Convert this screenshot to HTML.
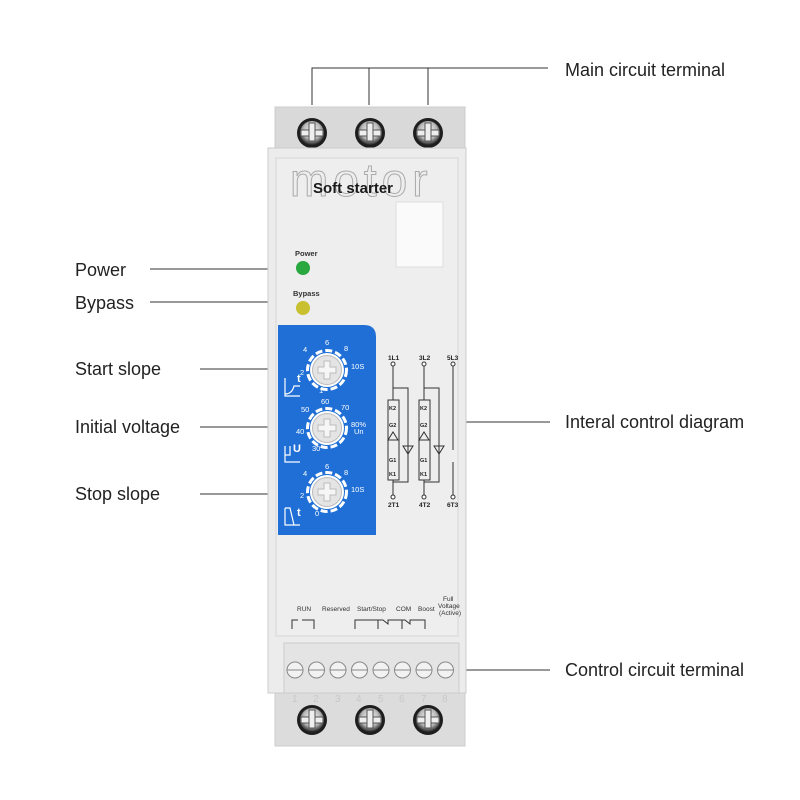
<!DOCTYPE html>
<html><head><meta charset="utf-8"><style>
html,body{margin:0;padding:0;background:#fff;}
svg{display:block;font-family:"Liberation Sans",sans-serif;}
</style></head><body>
<svg width="800" height="800" viewBox="0 0 800 800" xmlns="http://www.w3.org/2000/svg">
<defs>
<radialGradient id="scr" cx="50%" cy="40%" r="60%"><stop offset="0" stop-color="#f4f4f4"/><stop offset="0.6" stop-color="#bbb"/><stop offset="1" stop-color="#222"/></radialGradient>
<g id="screw"><circle r="15" fill="#1e1e1e"/><circle r="12" fill="url(#scr)"/><rect x="-11" y="-3" width="22" height="6" fill="#eee" stroke="#555" stroke-width="1"/><rect x="-3" y="-10" width="6" height="18" fill="#eee" stroke="#555" stroke-width="1"/></g>
<g id="knob"><circle r="19.5" fill="none" stroke="#fff" stroke-width="3" stroke-dasharray="7 3"/><circle r="17" fill="#fff"/><circle r="14.5" fill="#e4e4e4" stroke="#bbb"/><path d="M-3,-9h6v6h6v6h-6v6h-6v-6h-6v-6h6z" fill="#f6f6f6" stroke="#bbb"/></g>
</defs>
<g stroke="#333" stroke-width="1" fill="none">
<path d="M312,105V68H548M369,68V105M428,68V105"/>
<path d="M150,269H290M150,302H290"/>
<path d="M200,369H300M200,427H300M200,494H300"/>
<path d="M462,422H550M462,670H550"/>
</g>
<g font-size="18" fill="#222">
<text x="565" y="76">Main circuit terminal</text>
<text x="75" y="276">Power</text>
<text x="75" y="309">Bypass</text>
<text x="75" y="375">Start slope</text>
<text x="75" y="433">Initial voltage</text>
<text x="75" y="500">Stop slope</text>
<text x="565" y="428">Interal control diagram</text>
<text x="565" y="676">Control circuit terminal</text>
</g>
<rect x="275" y="107" width="190" height="45" fill="#d9d9d9" stroke="#ccc"/>
<use href="#screw" x="312" y="133"/><use href="#screw" x="370" y="133"/><use href="#screw" x="428" y="133"/>
<rect x="275" y="690" width="190" height="56" fill="#dcdcdc" stroke="#ccc"/>
<use href="#screw" x="312" y="720"/><use href="#screw" x="370" y="720"/><use href="#screw" x="428" y="720"/>
<rect x="268" y="148" width="198" height="545" fill="#ececec" stroke="#ccc"/>
<rect x="276" y="158" width="182" height="478" fill="#eeeeee" stroke="#d6d6d6"/>
<text x="290" y="196" font-size="46" fill="none" stroke="#aaa" stroke-width="1" letter-spacing="5">motor</text>
<text x="313" y="193" font-size="15" font-weight="bold" fill="#1a1a1a">Soft starter</text>
<rect x="396" y="202" width="47" height="65" fill="#fafafa" stroke="#ddd"/>
<text x="295" y="256" font-size="7.5" font-weight="bold" fill="#333">Power</text>
<circle cx="303" cy="268" r="7" fill="#2aa840"/>
<text x="293" y="296" font-size="7.5" font-weight="bold" fill="#333">Bypass</text>
<circle cx="303" cy="308" r="7" fill="#c8c030"/>
<path d="M278,325H364Q376,325 376,337V535H278Z" fill="#1f6fd6"/>
<use href="#knob" x="327" y="370"/><use href="#knob" x="327" y="428"/><use href="#knob" x="327" y="492"/>
<g fill="#fff" font-size="7.5">
<text x="303" y="352">4</text><text x="325" y="345">6</text><text x="344" y="351">8</text><text x="351" y="369">10S</text><text x="300" y="375">2</text><text x="319" y="393">1</text>
<text x="301" y="412">50</text><text x="321" y="404">60</text><text x="341" y="410">70</text><text x="351" y="427">80%</text><text x="354" y="434">Un</text><text x="296" y="434">40</text><text x="312" y="451">30</text>
<text x="303" y="476">4</text><text x="325" y="469">6</text><text x="344" y="475">8</text><text x="351" y="492">10S</text><text x="300" y="498">2</text><text x="315" y="516">0</text>
<text x="297" y="382" font-size="11" font-weight="bold">t</text>
<text x="293" y="452" font-size="11" font-weight="bold">U</text>
<text x="297" y="516" font-size="11" font-weight="bold">t</text>
</g>
<g stroke="#fff" fill="none" stroke-width="1.2">
<path d="M285,378V396H300M285,394Q292,394 294,386H300"/>
<path d="M285,446V462H300M285,455H290V446"/>
<path d="M285,508V525H300M285,508H290L294,525"/>
</g>
<g stroke="#333" fill="none" stroke-width="1">
<path d="M393,365V495M424,365V495M453,365V495"/>
<rect x="388" y="400" width="11" height="80" fill="#eee"/><rect x="419" y="400" width="11" height="80" fill="#eee"/>
<path d="M393,388H408V482H393M424,388H439V482H424"/>
<path d="M388,440H398L393,432Z M419,440H429L424,432Z M403,446H413L408,454Z M434,446H444L439,454Z"/>
<circle cx="393" cy="364" r="2" fill="#fff"/><circle cx="424" cy="364" r="2" fill="#fff"/><circle cx="453" cy="364" r="2" fill="#fff"/>
<circle cx="393" cy="497" r="2" fill="#fff"/><circle cx="424" cy="497" r="2" fill="#fff"/><circle cx="453" cy="497" r="2" fill="#fff"/>
</g>
<rect x="452" y="450" width="3" height="12" fill="#eee"/>
<g font-size="6.5" fill="#222" font-weight="bold">
<text x="388" y="360">1L1</text><text x="419" y="360">3L2</text><text x="447" y="360">5L3</text>
<text x="388" y="507">2T1</text><text x="419" y="507">4T2</text><text x="447" y="507">6T3</text>
<text x="389" y="410" font-size="5.5">K2</text><text x="420" y="410" font-size="5.5">K2</text>
<text x="389" y="427" font-size="5.5">G2</text><text x="420" y="427" font-size="5.5">G2</text>
<text x="389" y="462" font-size="5.5">G1</text><text x="420" y="462" font-size="5.5">G1</text>
<text x="389" y="476" font-size="5.5">K1</text><text x="420" y="476" font-size="5.5">K1</text>
</g>
<g font-size="6.5" fill="#333">
<text x="297" y="611">RUN</text><text x="322" y="611">Reserved</text><text x="357" y="611">Start/Stop</text><text x="396" y="611">COM</text><text x="418" y="611">Boost</text>
<text x="443" y="601">Full</text><text x="438" y="608">Voltage</text><text x="439" y="615">(Active)</text>
</g>
<path d="M292,629V620H298M302,620H314V629M355,629V620H378V629M378,620H383L388,624V620H402V629M402,620H405L410,624V620H425V629" stroke="#333" fill="none"/>
<rect x="284" y="643" width="175" height="50" fill="#e4e4e4" stroke="#ccc"/>
<g fill="#f2f2f2" stroke="#888">
<circle cx="295" cy="670" r="8"/><circle cx="316.5" cy="670" r="8"/><circle cx="338" cy="670" r="8"/><circle cx="359.5" cy="670" r="8"/><circle cx="381" cy="670" r="8"/><circle cx="402.5" cy="670" r="8"/><circle cx="424" cy="670" r="8"/><circle cx="445.5" cy="670" r="8"/>
</g>
<path d="M287,670H303M308,670H324M330,670H346M351,670H367M373,670H389M394,670H410M416,670H432M437,670H453" stroke="#888"/>
<g font-size="10" fill="#c8c8c8">
<text x="292" y="702">1</text><text x="313" y="702">2</text><text x="335" y="702">3</text><text x="356" y="702">4</text><text x="378" y="702">5</text><text x="399" y="702">6</text><text x="421" y="702">7</text><text x="442" y="702">8</text>
</g>
</svg>
</body></html>
